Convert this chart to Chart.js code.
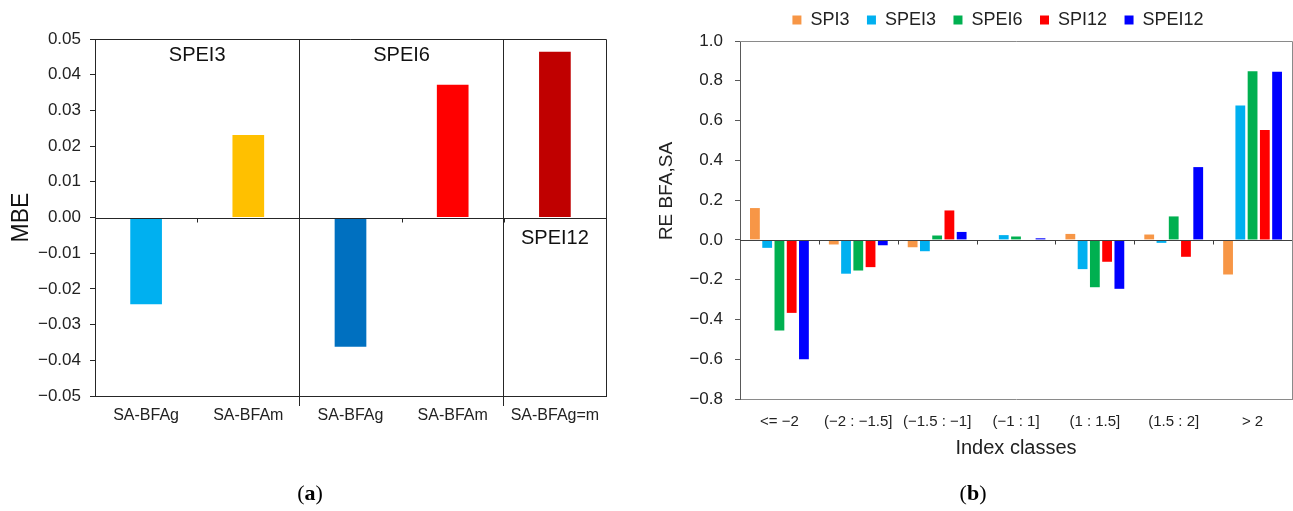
<!DOCTYPE html>
<html>
<head>
<meta charset="utf-8">
<script src="https://cdn.jsdelivr.net/npm/chart.js@4.4.1/dist/chart.umd.min.js"></script>
<style>
  html, body { margin: 0; padding: 0; background: #fff; overflow: hidden; }
  #wrap { position: relative; width: 1293px; height: 511px; }
  #chartA { position: absolute; left: 0; top: 0; }
  #chartB { position: absolute; left: 650px; top: 0; }
  .cap { position: absolute; top: 480px; width: 60px; text-align: center; line-height: 26px;
         font-family: "Liberation Serif", serif; font-size: 22px; color: #000; }
</style>
</head>
<body>
<div id="wrap">
  <canvas id="chartA" width="640" height="511"></canvas>
  <canvas id="chartB" width="696" height="511"></canvas>
  <div class="cap" style="left: 280px;">(<b>a</b>)</div>
  <div class="cap" style="left: 943px;">(<b>b</b>)</div>
</div>
<script>
// --- DATA: panel (a) ---
const mbeLabels = ['SA-BFAg', 'SA-BFAm', 'SA-BFAg', 'SA-BFAm', 'SA-BFAg=m'];
const mbeValues = [-0.0243, 0.0231, -0.0362, 0.0372, 0.0464];
const mbeColors = ['#00B0F0', '#FFC000', '#0070C0', '#FF0000', '#C00000'];
const mbeTicks = [-0.05, -0.04, -0.03, -0.02, -0.01, 0, 0.01, 0.02, 0.03, 0.04, 0.05];
const groupNames = ['SPEI3', 'SPEI6', 'SPEI12'];

// --- DATA: panel (b) ---
const classLabels = ['<= \u22122', '(\u22122 : \u22121.5]', '(\u22121.5 : \u22121]', '(\u22121 : 1]', '(1 : 1.5]', '(1.5 : 2]', '> 2'];
const seriesNames = ['SPI3', 'SPEI3', 'SPEI6', 'SPI12', 'SPEI12'];
const spi3   = [0.16, -0.023, -0.037, 0, 0.03, 0.027, -0.174];
const spei3  = [-0.04, -0.17, -0.057, 0.024, -0.147, -0.015, 0.676];
const spei6  = [-0.455, -0.154, 0.022, 0.017, -0.238, 0.118, 0.848];
const spi12  = [-0.367, -0.137, 0.148, 0, -0.11, -0.085, 0.553];
const spei12 = [-0.60, -0.027, 0.04, 0.008, -0.246, 0.366, 0.845];
const seriesColors = ['#F79646', '#00B0F0', '#00B050', '#FF0000', '#0000FF'];
const reTicks = [-0.8, -0.6, -0.4, -0.2, 0, 0.2, 0.4, 0.6, 0.8, 1.0];

const FONT = '"Liberation Sans", Arial, sans-serif';
const fmt = (v, d) => (v < 0 ? '\u2212' : '') + Math.abs(v).toFixed(d);
const crisp = v => Math.round(v) + 0.5;

// top/right edges of the plot box + zero line with short ticks at class boundaries
const frame = {
    id: 'frame',
    afterDatasetsDraw(chart, args, opts) {
        const { ctx, chartArea: a, scales: { x, y } } = chart;
        const y0 = crisp(y.getPixelForValue(0));
        ctx.save();
        ctx.lineWidth = 1;
        ctx.strokeStyle = opts.boxColor;
        ctx.beginPath();
        ctx.moveTo(a.left, crisp(a.top));
        ctx.lineTo(crisp(a.right), crisp(a.top));
        ctx.lineTo(crisp(a.right), a.bottom);
        ctx.stroke();
        ctx.strokeStyle = opts.zeroColor;
        ctx.beginPath();
        ctx.moveTo(a.left, y0);
        ctx.lineTo(a.right, y0);
        for (let i = 1; i < x.ticks.length; i++) {
            const px = crisp(x.getPixelForValue(i - 0.5));
            ctx.moveTo(px, y0);
            ctx.lineTo(px, y0 + opts.tickLen);
        }
        ctx.stroke();
        ctx.restore();
    }
};

// index names written inside panel (a), placed in data units
const tagSpots = [[0.5, 0.0455], [2.5, 0.0455], [4, -0.0059]];
const groupTags = {
    id: 'groupTags',
    afterDraw(chart) {
        const { ctx, scales: { x, y } } = chart;
        ctx.save();
        ctx.font = '20px ' + FONT;
        ctx.fillStyle = '#111';
        ctx.textAlign = 'center';
        ctx.textBaseline = 'middle';
        groupNames.forEach((name, i) => {
            const [cx, cy] = tagSpots[i];
            ctx.fillText(name, x.getPixelForValue(cx), y.getPixelForValue(cy));
        });
        ctx.restore();
    }
};

// rotated y title for panel (b); sits above the middle of the axis like the original
const sideTitle = {
    id: 'sideTitle',
    afterDraw(chart, args, opts) {
        const { ctx, chartArea: a } = chart;
        ctx.save();
        ctx.translate(opts.x, a.top + (a.bottom - a.top) * opts.at);
        ctx.rotate(-Math.PI / 2);
        ctx.font = opts.size + 'px ' + FONT;
        ctx.fillStyle = '#222';
        ctx.textAlign = 'center';
        ctx.textBaseline = 'middle';
        ctx.fillText(opts.text, 0, 0);
        ctx.restore();
    }
};

// --- PANEL (a) ---
const splitLines = [2, 4]; // grid lines between SPEI3 | SPEI6 | SPEI12
new Chart(document.getElementById('chartA'), {
    type: 'bar',
    data: {
        labels: mbeLabels,
        datasets: [{
            data: mbeValues,
            backgroundColor: mbeColors,
            borderWidth: 0,
            categoryPercentage: 1,
            barPercentage: 0.31
        }]
    },
    options: {
        responsive: false,
        animation: false,
        layout: { padding: { top: 39, right: 34, left: 0, bottom: 0 } },
        plugins: {
            legend: { display: false },
            tooltip: { enabled: false },
            frame: { boxColor: '#262626', zeroColor: '#262626', tickLen: 4 }
        },
        scales: {
            x: {
                grid: {
                    offset: true,
                    tickLength: 10,
                    color: c => splitLines.includes(c.index) ? '#262626' : 'rgba(0,0,0,0)'
                },
                border: { color: '#262626' },
                ticks: { color: '#222', font: { family: FONT, size: 16 }, padding: 0, autoSkip: false, maxRotation: 0 },
                afterFit: s => { s.height = 115; }
            },
            y: {
                min: -0.05,
                max: 0.05,
                afterBuildTicks: s => { s.ticks = mbeTicks.map(v => ({ value: v })); },
                grid: { drawOnChartArea: false, tickLength: 5, tickColor: '#262626' },
                border: { color: '#262626' },
                ticks: { color: '#222', font: { family: FONT, size: 17 }, padding: 9, callback: v => fmt(v, 2) },
                title: { display: true, text: 'MBE', color: '#111', font: { family: FONT, size: 23 }, padding: 8 },
                afterFit: s => { s.width = 95; }
            }
        }
    },
    plugins: [frame, groupTags]
});

// --- PANEL (b) ---
const seriesValues = [spi3, spei3, spei6, spi12, spei12];
new Chart(document.getElementById('chartB'), {
    type: 'bar',
    data: {
        labels: classLabels,
        datasets: seriesNames.map((name, i) => ({
            label: name,
            data: seriesValues[i],
            backgroundColor: seriesColors[i],
            borderWidth: 0,
            categoryPercentage: 0.777,
            barPercentage: 0.8,
            xAxisID: 'x',
            yAxisID: 'y'
        }))
    },
    options: {
        responsive: false,
        animation: false,
        layout: { padding: { top: -6.5, right: 0, left: 0, bottom: 0 } },
        plugins: {
            legend: {
                position: 'top',
                labels: { boxWidth: 9, boxHeight: 9, padding: 17.5, color: '#222', font: { family: FONT, size: 18 } }
            },
            tooltip: { enabled: false },
            frame: { boxColor: '#8a8a8a', zeroColor: '#404040', tickLen: 4 },
            sideTitle: { text: 'RE BFA,SA', x: 17, at: 0.419, size: 19 }
        },
        scales: {
            x: {
                grid: { display: false },
                border: { color: '#8a8a8a' },
                ticks: { color: '#222', font: { family: FONT, size: 15 }, padding: 6, autoSkip: false, maxRotation: 0 },
                title: { display: true, text: 'Index classes', color: '#222', font: { family: FONT, size: 20 }, padding: { top: 0, bottom: 51 } },
                afterFit: s => { s.height = 112; }
            },
            xTop: {
                type: 'category',
                position: 'top',
                grid: { display: false },
                ticks: { display: false },
                border: { display: false },
                afterFit: s => { s.height = 2; }
            },
            y: {
                min: -0.8,
                max: 1.0,
                afterBuildTicks: s => { s.ticks = reTicks.map(v => ({ value: v })); },
                grid: { drawOnChartArea: false, tickLength: 5, tickColor: '#595959' },
                border: { color: '#595959' },
                ticks: { color: '#222', font: { family: FONT, size: 17 }, padding: 12, callback: v => fmt(v, 1) },
                afterFit: s => { s.width = 90; }
            },
            yRight: {
                type: 'linear',
                position: 'right',
                grid: { display: false },
                ticks: { display: false },
                border: { display: false },
                afterFit: s => { s.width = 54; }
            }
        }
    },
    plugins: [frame, sideTitle]
});
</script>
</body>
</html>
